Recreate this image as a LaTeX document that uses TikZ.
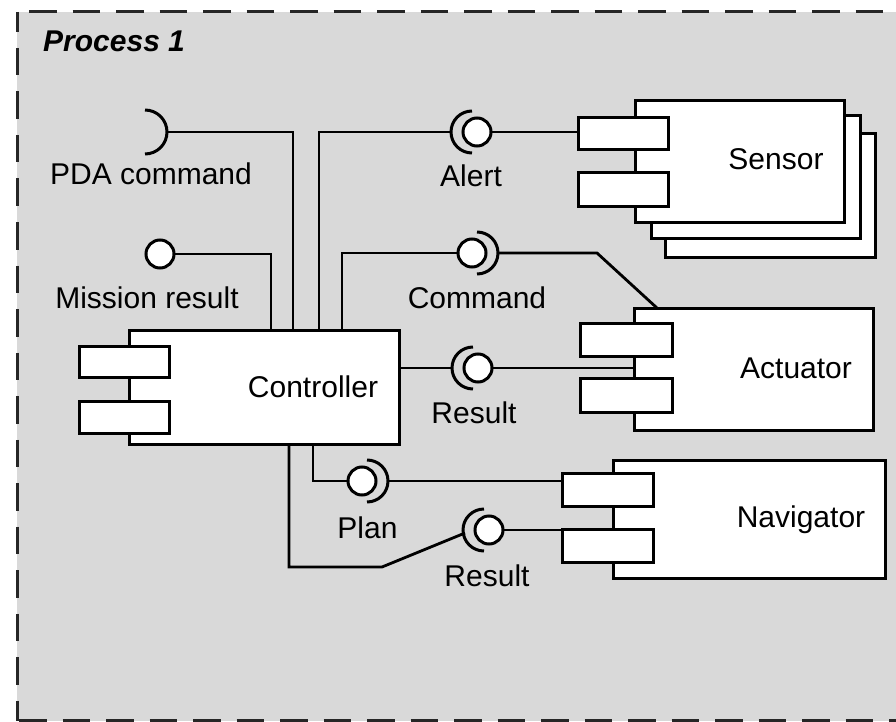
\documentclass[tikz,border=0pt]{standalone}
\usepackage{fontspec}
\setmainfont{Liberation Sans}
\usetikzlibrary{calc}
\pgfdeclarelayer{frame}
\pgfdeclarelayer{wires}
\pgfsetlayers{frame,wires,main}
\definecolor{framegray}{RGB}{217,217,217}
\tikzset{
  uml/.style={line width=3pt, draw=black},
  compbody/.style={uml, fill=white, rectangle, inner sep=0pt, outer sep=0pt},
  portbox/.style={compbody, minimum width=90pt},
  ball/.style={uml, fill=white, circle, inner sep=0pt, outer sep=0pt, minimum size=28pt},
  wire/.style={uml, line width=2.8pt, line join=miter},
  txt/.style={font=\fontsize{30pt}{36pt}\selectfont, inner sep=0pt, anchor=base},
  framedash/.style={line width=3pt, draw=black!85, dash pattern=on 27.5pt off 16pt},
}
\begin{document}
\begin{tikzpicture}[x=1pt,y=-1pt]
\useasboundingbox (0,0) rectangle (896,722);
\clip (0,0) rectangle (896,722);

% process frame
\begin{pgfonlayer}{frame}
  \fill[white] (0,0) rectangle (896,722);
  \fill[framegray] (17,12) rectangle (905,721);
  \draw[framedash, dash phase=31.5pt] (17,12) -- (905,12);
  \draw[framedash, dash phase=7.5pt] (17,12) -- (17,721);
  \draw[framedash, dash phase=41.5pt] (17,720.5) -- (905,720.5);
\end{pgfonlayer}
\node[txt, anchor=base west, font=\fontsize{30pt}{36pt}\selectfont\bfseries\itshape] (title) at (43,52) {Process 1};

% Controller
\node[compbody, minimum width=270pt, minimum height=114pt] (ctrl) at (264,387) {};
\node[portbox, minimum height=31pt] (ctrlPortA) at (124,361.5) {};
\node[portbox, minimum height=32pt] (ctrlPortB) at (124,417) {};
\node[txt] (ctrlLbl) at (313,397) {Controller};

% Sensor (multiple instances)
\node[compbody, minimum width=210pt, minimum height=123pt] (sensC) at (770,195.5) {};
\node[compbody, minimum width=209pt, minimum height=122pt] (sensB) at (755.5,177) {};
\node[compbody, minimum width=209pt, minimum height=121pt] (sensA) at (739.5,161.5) {};
\node[portbox, minimum height=32pt] (sensPortA) at (623,134) {};
\node[portbox, minimum height=33pt] (sensPortB) at (623,189.5) {};
\node[txt] (sensLbl) at (776,170) {Sensor};

% Actuator
\node[compbody, minimum width=239pt, minimum height=122pt] (actBody) at (753.5,369) {};
\node[portbox, minimum width=92pt, minimum height=33pt] (actPortA) at (626,339.5) {};
\node[portbox, minimum width=92pt, minimum height=34pt] (actPortB) at (626,395) {};
\node[txt] (actLbl) at (796,378) {Actuator};

% Navigator
\node[compbody, minimum width=272pt, minimum height=118pt] (navBody) at (749,519) {};
\node[portbox, minimum width=91pt, minimum height=33pt] (navPortA) at (607.5,489.5) {};
\node[portbox, minimum width=91pt, minimum height=33pt] (navPortB) at (607.5,545.5) {};
\node[txt] (navLbl) at (801,527) {Navigator};

% provided interfaces (balls)
\node[ball] (missionBall) at (160,254) {};
\node[ball] (alertBall) at (477,132) {};
\node[ball] (cmdBall) at (472,253) {};
\node[ball] (resBall) at (478,368) {};
\node[ball] (planBall) at (362,481) {};
\node[ball] (navResBall) at (489,530) {};
\coordinate (pdaSock) at (145,132);

% required interfaces (sockets)
\draw[uml] ([shift={(0,22)}]pdaSock) arc[start angle=-90, end angle=90, radius=22pt];
\draw[uml] ([shift={(-5,-21)}]alertBall.center) arc[start angle=90, end angle=270, radius=21pt];
\draw[uml] ([shift={(5,21)}]cmdBall.center) arc[start angle=-90, end angle=90, radius=21pt];
\draw[uml] ([shift={(-5,-21)}]resBall.center) arc[start angle=90, end angle=270, radius=21pt];
\draw[uml] ([shift={(5,21)}]planBall.center) arc[start angle=-90, end angle=90, radius=21pt];
\draw[uml] ([shift={(-5,-21)}]navResBall.center) arc[start angle=90, end angle=270, radius=21pt];

% interface labels
\node[txt] (pdaLbl) at (151,185) {PDA command};
\node[txt] (missionLbl) at (147,308) {Mission result};
\node[txt] (alertLbl) at (471,186) {Alert};
\node[txt] (cmdLbl) at (477,308) {Command};
\node[txt] (resLbl) at (474,423) {Result};
\node[txt] (planLbl) at (367.5,538) {Plan};
\node[txt] (navResLbl) at (487,586) {Result};

% attachment points on the controller
\coordinate (ctrlMission) at ($(ctrl.north west)+(142,0)$);
\coordinate (ctrlPDA) at ($(ctrl.north west)+(164,0)$);
\coordinate (ctrlAlert) at ($(ctrl.north west)+(190,0)$);
\coordinate (ctrlCmd) at ($(ctrl.north west)+(213,0)$);
\coordinate (ctrlRes) at ($(ctrl.north east)+(0,38)$);
\coordinate (ctrlPlan) at ($(ctrl.south west)+(184,0)$);
\coordinate (ctrlNavRes) at ($(ctrl.south west)+(160,0)$);
\coordinate (cmdBend) at (597,253);
\coordinate (actTop) at ($(actBody.north west)+(23,0)$);
\coordinate (navBend) at (382,567);

% connectors
\begin{pgfonlayer}{wires}
  \draw[wire] ([shift={(22,0)}]pdaSock) -| (ctrlPDA);
  \draw[wire] (missionBall.center) -| (ctrlMission);
  \draw[wire] (ctrlAlert) |- ([shift={(-26,0)}]alertBall.center);
  \draw[wire] (alertBall.center) -- (alertBall.center -| sensPortA.west);
  \draw[wire] (ctrlCmd) |- (cmdBall.center);
  \draw[wire] ([shift={(26,0)}]cmdBall.center) -- (cmdBend) -- (actTop);
  \draw[wire] (ctrlRes) -- ([shift={(-26,0)}]resBall.center);
  \draw[wire] (resBall.center) -- (resBall.center -| actBody.west);
  \draw[wire] (ctrlPlan) |- (planBall.center);
  \draw[wire] ([shift={(26,0)}]planBall.center) -- (planBall.center -| navPortA.west);
  \draw[wire] (ctrlNavRes) |- (navBend) -- ([shift={(-24,3)}]navResBall.center);
  \draw[wire] (navResBall.center) -- (navResBall.center -| navPortB.west);
\end{pgfonlayer}
\end{tikzpicture}
\end{document}
